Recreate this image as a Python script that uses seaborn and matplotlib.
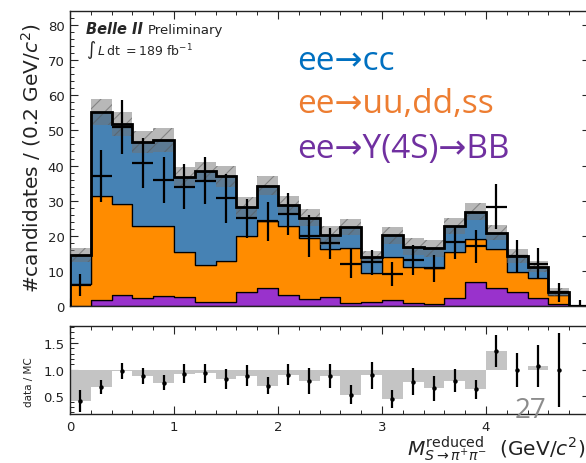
import numpy as np
import pandas as pd
import matplotlib
matplotlib.use("Agg")
import matplotlib.pyplot as plt
from matplotlib.ticker import MultipleLocator, FixedLocator
import seaborn as sns

# Binning of the reduced mass (GeV/c^2)
bin_edges = [round(0.2 * i, 2) for i in range(26)]
bin_centers = np.array([0.5 * (a + b) for a, b in zip(bin_edges[:-1], bin_edges[1:])])

# Simulated yields per bin, by process
bb_counts = [0.0, 1.7, 3.2, 2.3, 2.9, 2.6, 1.1, 1.1, 3.9, 5.2, 3.1, 2.1, 2.6,
             0.8, 1.2, 1.8, 0.8, 0.5, 2.2, 6.7, 5.1, 3.9, 2.4, 0.6, 0.0]
uds_counts = [6.2, 29.7, 25.9, 20.4, 19.8, 12.7, 10.7, 11.8, 16.0, 19.1, 19.6, 17.4, 13.5,
              15.6, 8.2, 12.1, 10.2, 10.2, 13.3, 12.4, 11.1, 5.9, 5.5, 2.5, 0.0]
cc_counts = [8.3, 23.9, 22.7, 23.9, 24.5, 21.4, 26.6, 24.0, 8.3, 10.0, 6.1, 5.6, 4.0,
             6.1, 4.5, 6.2, 5.9, 5.7, 7.2, 7.7, 4.7, 4.4, 3.3, 0.8, 0.0]
# Uncertainty on the total simulated yield
mc_unc = [2.0, 3.7, 3.4, 3.1, 3.4, 3.0, 2.7, 2.9, 2.9, 2.6, 2.5, 2.4, 2.6,
          2.4, 1.7, 2.4, 2.5, 2.4, 2.3, 2.4, 2.1, 2.0, 1.6, 1.1, 0.0]

# Observed candidates with their uncertainties
data_counts = [6.0, 37.0, 50.9, 40.7, 35.9, 34.0, 35.7, 30.7, 25.0, 24.1, 26.2, 19.9, 17.8,
               12.0, 12.4, 9.1, 13.1, 10.7, 18.1, 17.0, 28.2, 14.2, 12.0, 3.9, 0.0]
data_err_lo = [3.1, 7.3, 7.7, 7.0, 6.6, 6.4, 6.7, 7.0, 5.5, 5.6, 5.9, 6.0, 4.5,
               4.1, 3.5, 3.5, 4.3, 3.9, 4.7, 4.7, 6.4, 4.5, 4.4, 2.7, 0.0]
data_err_hi = [3.1, 7.3, 7.7, 7.0, 6.6, 6.4, 6.7, 7.0, 5.5, 5.6, 5.9, 6.0, 4.5,
               4.1, 3.5, 3.5, 4.3, 3.9, 4.7, 4.7, 6.4, 4.5, 4.4, 2.7, 1.8]

process_order = ["cc", "uds", "bb"]
process_colors = {"cc": "#4682b4", "uds": "#ff8c00", "bb": "#9932cc"}

legend_lines = ["ee\u2192cc", "ee\u2192uu,dd,ss", "ee\u2192Y(4S)\u2192BB"]
legend_colors = ["#0070c0", "#ed7d31", "#7030a0"]

mass_ticks = [0, 1, 2, 3, 4]

sns.set_style("ticks", {"xtick.direction": "in", "ytick.direction": "in"})
plt.rcParams["font.family"] = ["DejaVu Sans"]
plt.rcParams["hatch.linewidth"] = 0.8

W, H = 586, 464
fig = plt.figure(figsize=(W / 100, H / 100), dpi=100)


def px_box(x0, y0, x1, y1):
    return [x0 / W, 1 - y1 / H, (x1 - x0) / W, (y1 - y0) / H]


ax = fig.add_axes(px_box(70, 12, 590, 307))
rax = fig.add_axes(px_box(70, 327, 590, 415))

# Stacked simulation
df = pd.DataFrame({
    "mass": np.tile(bin_centers, 3),
    "count": np.concatenate([cc_counts, uds_counts, bb_counts]),
    "process": np.repeat(process_order, len(bin_centers)),
})
sns.histplot(data=df, x="mass", weights="count", hue="process",
             hue_order=process_order, multiple="stack", bins=bin_edges,
             element="step", palette=process_colors, alpha=1.0,
             edgecolor="black", linewidth=0.9, legend=False, ax=ax)

total = np.array(cc_counts) + np.array(uds_counts) + np.array(bb_counts)
unc = np.array(mc_unc)

# Uncertainty band on the total
ax.bar(bin_centers, 2 * unc, bottom=total - unc, width=0.2,
       color=(0.45, 0.45, 0.45, 0.5), edgecolor=(0.35, 0.35, 0.35, 0.55),
       linewidth=0, hatch="//", zorder=3)
ax.stairs(total, bin_edges, color="black", linewidth=2.0, zorder=4)

# Data
ax.errorbar(bin_centers, data_counts, xerr=0.1,
            yerr=[data_err_lo, data_err_hi], fmt="none",
            ecolor="black", elinewidth=1.6, capsize=0, zorder=5)

ax.set_xlim(0, 5)
ax.set_ylim(0, 84)
ax.set_xlabel("")
ax.set_ylabel("")
ax.xaxis.set_major_locator(MultipleLocator(1))
ax.xaxis.set_minor_locator(MultipleLocator(0.2))
ax.yaxis.set_major_locator(MultipleLocator(10))
ax.yaxis.set_minor_locator(MultipleLocator(2))
ax.tick_params(axis="x", labelbottom=False)

# Ratio panel
ratio_mask = total > 0
ratio = np.array(data_counts)[ratio_mask] / total[ratio_mask]
ratio_err = np.array(data_err_lo)[ratio_mask] / total[ratio_mask]
rc = bin_centers[ratio_mask]
rax.bar(rc, ratio - 1, bottom=1, width=0.2, color="#c4c4c4", linewidth=0, zorder=2)
rax.errorbar(rc, ratio, yerr=ratio_err, fmt="o", ms=2.2, color="black",
             ecolor="black", elinewidth=1.6, capsize=0, zorder=4)
rax.set_xlim(0, 5)
rax.set_ylim(0.17, 1.82)
rax.set_xticks(mass_ticks)
rax.set_xticklabels([str(t) for t in mass_ticks])
rax.xaxis.set_minor_locator(MultipleLocator(0.2))
rax.yaxis.set_minor_locator(MultipleLocator(0.1))
rax.set_yticks([0.5, 1.0, 1.5])
rax.set_yticklabels(["0.5", "1.0", "1.5"])

for a in (ax, rax):
    a.tick_params(which="both", direction="in", top=True, right=True,
                  labelsize=9.5, labelcolor="#222222", pad=4)
    a.tick_params(which="major", length=6, width=0.8)
    a.tick_params(which="minor", length=3, width=0.7)
    for s in a.spines.values():
        s.set_linewidth(1.0)
        s.set_color("#222222")

# Axis titles
fig.text(31 / W, 1 - 158 / H, "#candidates / (0.2 GeV/$c^2$)", rotation=90,
         ha="center", va="center", fontsize=14.5, color="#222222")
fig.text(29 / W, 1 - 382 / H, "data / MC", rotation=90,
         ha="center", va="center", fontsize=7.5, color="#222222")
fig.text(585 / W, 1 - 456 / H,
         r"$M^{\mathrm{reduced}}_{S\to\pi^{+}\pi^{-}}$  (GeV/$c^2$)",
         ha="right", va="baseline", fontsize=14.5, color="#222222")

# Experiment label
fig.text(86 / W, 1 - 34 / H, "Belle II", fontsize=10.5, fontweight="bold",
         fontstyle="italic", va="baseline", ha="left")
fig.text(148 / W, 1 - 34 / H, "Preliminary", fontsize=9.5,
         va="baseline", ha="left", color="#222222")
fig.text(86 / W, 1 - 55 / H,
         r"$\int\, L\,\mathrm{dt}\ = 189\ \mathrm{fb}^{-1}$",
         fontsize=9, va="baseline", ha="left")

# Process key
for label, color, yb in zip(legend_lines, legend_colors, [70, 113, 158]):
    fig.text(297 / W, 1 - yb / H, label, color=color, fontsize=24,
             family=["Open Sans", "DejaVu Sans"], ha="left", va="baseline")

# Page number
fig.text(515 / W, 1 - 418 / H, "27", color="#8c8c8c", fontsize=20,
         family=["Open Sans", "DejaVu Sans"], ha="left", va="baseline")

fig.savefig("out.png", dpi=100)
